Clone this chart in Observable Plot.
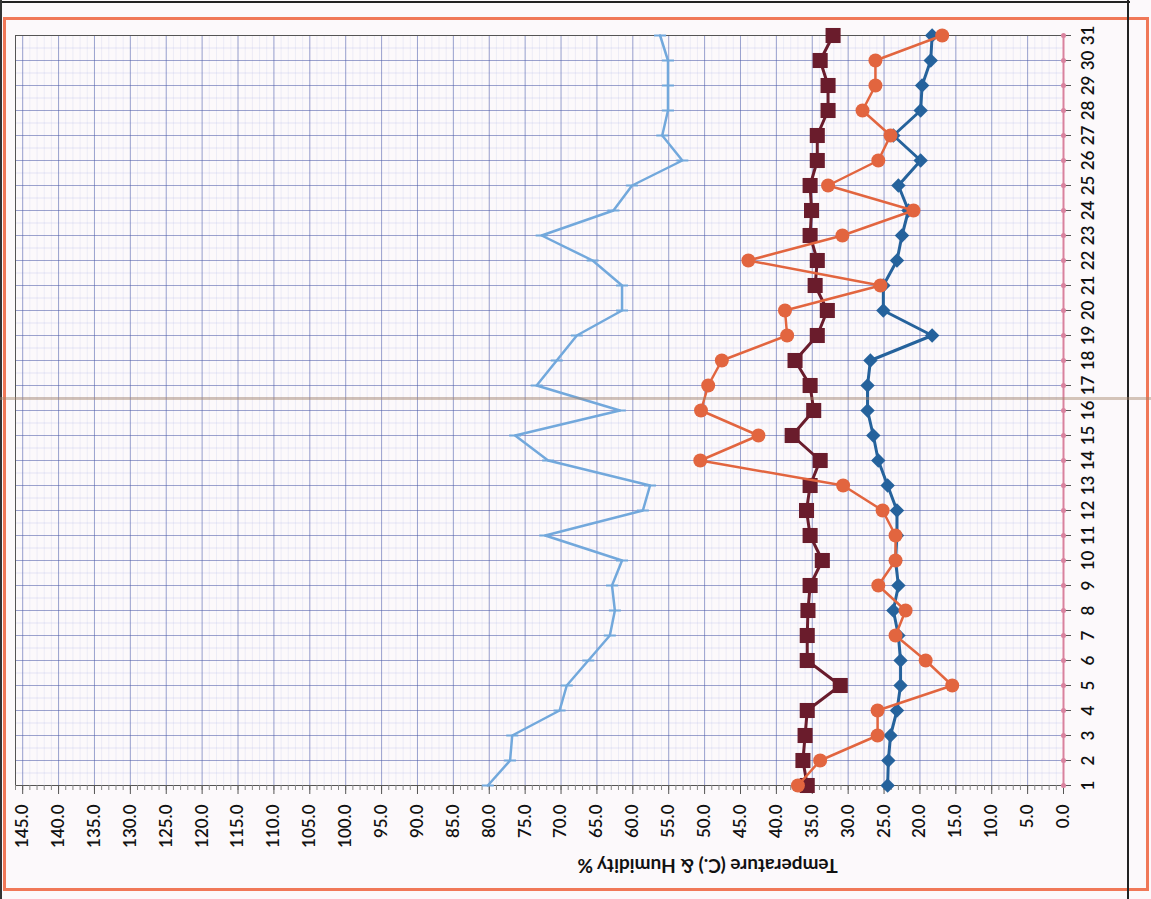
<!DOCTYPE html>
<html>
<head>
<meta charset="utf-8">
<script src="https://cdn.jsdelivr.net/npm/d3@7"></script>
<script src="https://cdn.jsdelivr.net/npm/@observablehq/plot@0.6"></script>
<style>
  html, body { margin: 0; padding: 0; }
  body { width: 1151px; height: 899px; overflow: hidden; position: relative; background: #fcf9fb; font-family: Lato, "Open Sans", sans-serif; }
  #chart { position: absolute; left: 0; top: 0; }
  .deco { position: absolute; pointer-events: none; }
  #border { left: 3px; top: 17px; width: 1146px; height: 874px; border: 3px solid #f07858; box-sizing: border-box; }
  #edgeTop { left: 0; top: 1px; width: 1130px; height: 2px; background: #222; }
  #edgeRight { left: 1127px; top: 0; width: 2px; height: 899px; background: #222; }
  #edgeLeft { left: 0; top: 0; width: 2px; height: 899px; background: #333; }
  #fold { left: 0; top: 397px; width: 1151px; height: 3px; background: rgba(165,130,105,0.45); }
</style>
</head>
<body>
<div id="chart"></div>
<div class="deco" id="border"></div>
<div class="deco" id="edgeTop"></div>
<div class="deco" id="edgeRight"></div>
<div class="deco" id="edgeLeft"></div>
<div class="deco" id="fold"></div>
<script>
// ---- data ----
const days = [1,2,3,4,5,6,7,8,9,10,11,12,13,14,15,16,17,18,19,20,21,22,23,24,25,26,27,28,29,30,31];
const humidity = [80.2,77.1,76.8,70.2,69.2,66.2,63.2,62.5,62.9,61.5,72.2,58.6,57.6,71.8,76.4,61.8,73.4,70.6,67.8,61.5,61.5,65.6,72.7,62.7,60.1,53.1,55.9,55.1,55.1,55.1,56.2];
const tempMaroon = [35.7,36.3,36.0,35.7,31.1,35.7,35.7,35.6,35.3,33.6,35.3,35.8,35.3,33.9,37.8,34.8,35.3,37.4,34.3,32.9,34.6,34.3,35.3,35.1,35.3,34.3,34.3,32.8,32.8,33.9,32.1];
const tempOrange = [37.0,33.9,25.9,25.9,15.5,19.2,23.4,22.0,25.8,23.4,23.4,25.2,30.7,50.6,42.5,50.5,49.5,47.6,38.5,38.8,25.5,43.9,30.8,20.9,32.8,25.8,24.1,28.0,26.2,26.2,16.9];
const tempBlue = [24.5,24.4,24.1,23.2,22.7,22.7,23.0,23.7,23.0,23.4,23.2,23.2,24.5,25.8,26.5,27.3,27.3,26.9,18.3,25.1,25.1,23.2,22.5,21.6,23.0,19.9,23.7,19.9,19.7,18.5,18.3];
const rainfall = [0,0,0,0,0,0,0,0,0,0,0,0,0,0,0,0,0,0,0,0,0,0,0,0,0,0,0,0,0,0,0];
const valueTicks = [0,5,10,15,20,25,30,35,40,45,50,55,60,65,70,75,80,85,90,95,100,105,110,115,120,125,130,135,140,145];
const minorTicks = [0,1,2,3,4,5,6,7,8,9,10,11,12,13,14,15,16,17,18,19,20,21,22,23,24,25,26,27,28,29,30,31,32,33,34,35,36,37,38,39,40,41,42,43,44,45,46,47,48,49,50,51,52,53,54,55,56,57,58,59,60,61,62,63,64,65,66,67,68,69,70,71,72,73,74,75,76,77,78,79,80,81,82,83,84,85,86,87,88,89,90,91,92,93,94,95,96,97,98,99,100,101,102,103,104,105,106,107,108,109,110,111,112,113,114,115,116,117,118,119,120,121,122,123,124,125,126,127,128,129,130,131,132,133,134,135,136,137,138,139,140,141,142,143,144,145,146];
const halfDays = [1.5,2.5,3.5,4.5,5.5,6.5,7.5,8.5,9.5,10.5,11.5,12.5,13.5,14.5,15.5,16.5,17.5,18.5,19.5,20.5,21.5,22.5,23.5,24.5,25.5,26.5,27.5,28.5,29.5,30.5];
const axisTitle = "Temperature (C.) & Humidity %";

// ---- tables for the library ----
const rows = (vals) => days.map((d, i) => ({day: d, v: vals[i]}));
const hum = rows(humidity), mar = rows(tempMaroon), ora = rows(tempOrange), blu = rows(tempBlue), rain = rows(rainfall);

const dash = { draw(ctx, size) { const w = Math.sqrt(size / Math.PI); ctx.moveTo(-w, 0); ctx.lineTo(w, 0); } };

const cHum = "#72a8dc", cMar = "#6a1c2c", cOra = "#e2653f", cBlu = "#25629c", cRain = "#d9829e";

const plot = Plot.plot({
  width: 1151,
  height: 899,
  marginLeft: 15,
  marginRight: 88,
  marginTop: 35,
  marginBottom: 114,
  style: { background: "transparent", fontFamily: "Lato, 'Open Sans', sans-serif", fontSize: "17px", color: "#111" },
  x: { domain: [0, 146], reverse: true },
  y: { domain: [1, 31] },
  marks: [
    // grid
    Plot.ruleX(minorTicks, { stroke: "#9aa5e0", strokeOpacity: 0.2, strokeWidth: 0.8 }),
    Plot.ruleY(halfDays, { stroke: "#9aa5e0", strokeOpacity: 0.3, strokeWidth: 0.8 }),
    Plot.ruleX(valueTicks, { stroke: "#4a5aa8", strokeOpacity: 0.5, strokeWidth: 1 }),
    Plot.ruleY(days, { stroke: "#4a5aa8", strokeOpacity: 0.55, strokeWidth: 1 }),
    Plot.frame({ stroke: "#555", strokeWidth: 1 }),
    // axes
    Plot.axisX({ anchor: "bottom", ticks: minorTicks, tickSize: 5, tickFormat: () => "", stroke: "#888", label: null }),
    Plot.axisX({ anchor: "bottom", ticks: valueTicks, tickSize: 9, tickPadding: 10, tickRotate: -90,
      textAnchor: "end", lineAnchor: "middle", tickFormat: d => d.toFixed(1), fontSize: 17, fontWeight: 600, stroke: "#555", label: null }),
    Plot.axisY({ anchor: "right", ticks: days, tickSize: 7, tickPadding: 11, tickRotate: -90,
      textAnchor: "middle", lineAnchor: "top", tickFormat: d => String(d), fontSize: 17, fontWeight: 600, stroke: "#555", label: null }),
    Plot.text([axisTitle], { frameAnchor: "bottom", dx: 168, dy: 73, rotate: 180, fontWeight: "bold", fontSize: 19, fill: "#111" }),
    // series
    Plot.line(hum, { x: "v", y: "day", stroke: cHum, strokeWidth: 2.5 }),
    Plot.dot(hum, { x: "v", y: "day", symbol: dash, r: 6, fill: "none", stroke: cHum, strokeWidth: 2 }),
    Plot.line(rain, { x: "v", y: "day", stroke: cRain, strokeWidth: 2 }),
    Plot.dot(rain, { x: "v", y: "day", r: 2.5, fill: cRain }),
    Plot.line(blu, { x: "v", y: "day", stroke: cBlu, strokeWidth: 3 }),
    Plot.dot(blu, { x: "v", y: "day", symbol: "diamond2", r: 6.5, fill: cBlu }),
    Plot.line(mar, { x: "v", y: "day", stroke: cMar, strokeWidth: 3 }),
    Plot.dot(mar, { x: "v", y: "day", symbol: "square", r: 8.5, fill: cMar }),
    Plot.line(ora, { x: "v", y: "day", stroke: cOra, strokeWidth: 2.5 }),
    Plot.dot(ora, { x: "v", y: "day", r: 7, fill: cOra })
  ]
});
document.getElementById("chart").appendChild(plot);
</script>
</body>
</html>
